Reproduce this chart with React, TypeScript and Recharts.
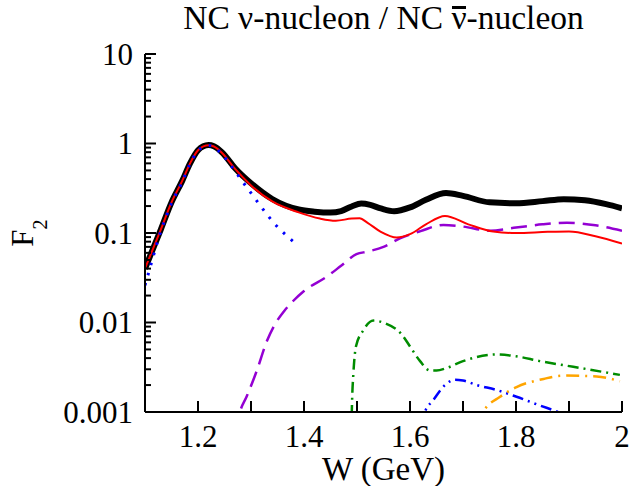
import { LineChart, Line, XAxis, YAxis } from "recharts";

// total F2 (thick black)
const wTotal = [1.1, 1.13, 1.15, 1.17, 1.185, 1.2, 1.21, 1.22, 1.23, 1.245, 1.27, 1.3, 1.34, 1.39, 1.42, 1.45, 1.47, 1.49, 1.508, 1.525, 1.545, 1.57, 1.6, 1.63, 1.668, 1.7, 1.75, 1.8, 1.85, 1.89, 1.93, 1.97, 2.0];
const fTotal = [0.04, 0.11, 0.22, 0.38, 0.6, 0.84, 0.93, 0.96, 0.93, 0.8, 0.53, 0.36, 0.24, 0.183, 0.173, 0.169, 0.176, 0.198, 0.213, 0.206, 0.188, 0.175, 0.193, 0.235, 0.28, 0.26, 0.22, 0.215, 0.227, 0.239, 0.232, 0.21, 0.189];

// red solid
const wRed = [1.1, 1.13, 1.15, 1.17, 1.185, 1.2, 1.21, 1.22, 1.23, 1.245, 1.27, 1.3, 1.34, 1.39, 1.43, 1.46, 1.49, 1.505, 1.52, 1.545, 1.575, 1.6, 1.63, 1.666, 1.71, 1.757, 1.8, 1.86, 1.9, 1.95, 2.0];
const fRed = [0.04, 0.11, 0.22, 0.38, 0.6, 0.84, 0.93, 0.955, 0.925, 0.79, 0.52, 0.34, 0.225, 0.17, 0.145, 0.137, 0.145, 0.146, 0.13, 0.103, 0.089, 0.097, 0.125, 0.155, 0.125, 0.104, 0.1, 0.103, 0.104, 0.092, 0.076];

// blue dotted (Delta)
const wDelta = [1.1, 1.105, 1.13, 1.15, 1.17, 1.185, 1.2, 1.21, 1.22, 1.23, 1.245, 1.27, 1.282, 1.306, 1.319, 1.343, 1.358, 1.373, 1.389];
const fDelta = [0.026, 0.033, 0.105, 0.215, 0.37, 0.59, 0.83, 0.92, 0.95, 0.91, 0.76, 0.49, 0.39, 0.25, 0.197, 0.13, 0.105, 0.087, 0.072];

// violet dashed
const wViolet = [1.27, 1.279, 1.292, 1.311, 1.33, 1.345, 1.362, 1.38, 1.4, 1.443, 1.47, 1.499, 1.52, 1.55, 1.581, 1.62, 1.663, 1.7, 1.751, 1.8, 1.85, 1.896, 1.95, 2.0];
const fViolet = [0.0006, 0.001, 0.0015, 0.0029, 0.0062, 0.0095, 0.0133, 0.0175, 0.0225, 0.0325, 0.043, 0.058, 0.062, 0.07, 0.087, 0.105, 0.123, 0.118, 0.106, 0.115, 0.125, 0.13, 0.122, 0.106];

// green dash-dot
const wGreen = [1.489, 1.491, 1.493, 1.498, 1.512, 1.531, 1.553, 1.584, 1.6, 1.619, 1.638, 1.65, 1.669, 1.7, 1.764, 1.8, 1.845, 1.908, 1.996];
const fGreen = [0.0005, 0.0015, 0.0026, 0.0054, 0.0082, 0.0105, 0.0098, 0.0074, 0.0054, 0.0037, 0.0029, 0.0029, 0.0031, 0.0037, 0.0044, 0.0042, 0.0037, 0.0032, 0.0026];

// blue dash-dot-dot
const wBlue2 = [1.62, 1.628, 1.644, 1.666, 1.685, 1.7, 1.726, 1.764, 1.801, 1.842, 1.88, 1.9];
const fBlue2 = [0.0007, 0.001, 0.00136, 0.002, 0.0023, 0.00225, 0.002, 0.00176, 0.00148, 0.0012, 0.001, 0.0009];

// orange dash-dot
const wOrange = [1.73, 1.738, 1.77, 1.801, 1.852, 1.889, 1.952, 1.996];
const fOrange = [0.0007, 0.001, 0.00148, 0.0019, 0.00234, 0.00255, 0.0025, 0.0022];

const xTicks = [1.1, 1.2, 1.3, 1.4, 1.5, 1.6, 1.7, 1.8, 1.9, 2.0];
const xTickLabels = ["", "1.2", "", "1.4", "", "1.6", "", "1.8", "", "2"];
const yMajor = [0.001, 0.01, 0.1, 1, 10];
const yMajorLabels = ["0.001", "0.01", "0.1", "1", "10"];

const yTicks: number[] = [];
yMajor.forEach((d, i) => {
  yTicks.push(d);
  if (i < yMajor.length - 1) for (let k = 2; k <= 9; k++) yTicks.push(+(d * k).toPrecision(3));
});

const FONT = "'Liberation Serif', 'Times New Roman', serif";
const TICK_FS = 31;

function pts(w: number[], f: number[]) {
  return w.map((x, i) => ({ w: x, f: f[i] }));
}

function BottomTick(props: any) {
  const { x, y, index } = props;
  const label = xTickLabels[index];
  return (
    <g>
      <line x1={x} x2={x} y1={y} y2={y - 11} stroke="#000" strokeWidth={2} />
      {label && (
        <text x={x} y={y + 35} textAnchor="middle" fontSize={TICK_FS} fontFamily={FONT} fill="#000">
          {label}
        </text>
      )}
    </g>
  );
}

function TopTick(props: any) {
  const { x, y } = props;
  return <line x1={x} x2={x} y1={y} y2={y + 11} stroke="#000" strokeWidth={2} />;
}

function LeftTick(props: any) {
  const { x, y, payload } = props;
  const i = yMajor.indexOf(payload.value);
  const len = i >= 0 ? 11 : 6;
  return (
    <g>
      <line x1={x} x2={x + len} y1={y} y2={y} stroke="#000" strokeWidth={2} />
      {i >= 0 && (
        <text x={x - 12} y={y + 10.5} textAnchor="end" fontSize={TICK_FS} fontFamily={FONT} fill="#000">
          {yMajorLabels[i]}
        </text>
      )}
    </g>
  );
}

function RightTick(props: any) {
  const { x, y, payload } = props;
  const len = yMajor.indexOf(payload.value) >= 0 ? 11 : 6;
  return <line x1={x} x2={x - len} y1={y} y2={y} stroke="#000" strokeWidth={2} />;
}

export default function App() {
  const axisLine = { stroke: "#000", strokeWidth: 2 };
  return (
    <div style={{ position: "absolute", left: 0, top: 0, width: 629, height: 486, background: "#fff", fontFamily: FONT }}>
      <LineChart width={629} height={486} margin={{ top: 54, right: 7, bottom: 34, left: 85 }}>
        <XAxis
          type="number"
          dataKey="w"
          domain={[1.1, 2]}
          ticks={xTicks}
          interval={0}
          allowDataOverflow
          height={40}
          tickSize={0}
          tickMargin={0}
          tickLine={false}
          axisLine={axisLine}
          tick={BottomTick}
        />
        <XAxis
          xAxisId="top"
          orientation="top"
          type="number"
          dataKey="w"
          domain={[1.1, 2]}
          ticks={xTicks}
          interval={0}
          height={0}
          tickSize={0}
          tickMargin={0}
          tickLine={false}
          axisLine={axisLine}
          tick={TopTick}
        />
        <YAxis
          type="number"
          scale="log"
          domain={[0.001, 10]}
          ticks={yTicks}
          interval={0}
          allowDataOverflow
          width={60}
          tickSize={0}
          tickMargin={0}
          tickLine={false}
          axisLine={axisLine}
          tick={LeftTick}
        />
        <YAxis
          yAxisId="right"
          orientation="right"
          type="number"
          scale="log"
          domain={[0.001, 10]}
          ticks={yTicks}
          interval={0}
          allowDataOverflow
          width={0}
          tickSize={0}
          tickMargin={0}
          tickLine={false}
          axisLine={axisLine}
          tick={RightTick}
        />
        <Line data={pts(wViolet, fViolet)} dataKey="f" type="monotone" stroke="#9400D3" strokeWidth={2.5} strokeDasharray="16 8" dot={false} isAnimationActive={false} />
        <Line data={pts(wGreen, fGreen)} dataKey="f" type="monotone" stroke="#008C00" strokeWidth={2.5} strokeDasharray="11 5 2 5" dot={false} isAnimationActive={false} />
        <Line data={pts(wBlue2, fBlue2)} dataKey="f" type="monotone" stroke="#0000FF" strokeWidth={2.5} strokeDasharray="11 5 2 5 2 5" dot={false} isAnimationActive={false} />
        <Line data={pts(wOrange, fOrange)} dataKey="f" type="monotone" stroke="#FFA500" strokeWidth={2.5} strokeDasharray="13 6 2 6" dot={false} isAnimationActive={false} />
        <Line data={pts(wTotal, fTotal)} dataKey="f" type="monotone" stroke="#000" strokeWidth={6} dot={false} isAnimationActive={false} />
        <Line data={pts(wRed, fRed)} dataKey="f" type="monotone" stroke="#FF0000" strokeWidth={2} dot={false} isAnimationActive={false} />
        <Line data={pts(wDelta, fDelta)} dataKey="f" type="monotone" stroke="#0000FF" strokeWidth={3} strokeDasharray="2.5 8" dot={false} isAnimationActive={false} />
      </LineChart>
      <div style={{ position: "absolute", left: 135, width: 497, top: 1, textAlign: "center", fontSize: 33.5, lineHeight: "33px", whiteSpace: "nowrap" }}>
        NC ν-nucleon / NC{" "}
        <span style={{ position: "relative", display: "inline-block" }}>
          ν
          <span style={{ position: "absolute", left: 1, right: 1, top: 5, height: 2.5, background: "#000" }} />
        </span>
        -nucleon
      </div>
      <div style={{ position: "absolute", left: 135, width: 497, top: 457, textAlign: "center", fontSize: 33, lineHeight: "24px" }}>
        W (GeV)
      </div>
      <svg width={629} height={486} style={{ position: "absolute", left: 0, top: 0, pointerEvents: "none" }}>
        <text transform="translate(33,233) rotate(-90)" textAnchor="middle" fontSize={31} fontFamily={FONT} fill="#000">
          F<tspan fontSize={20} dy={14}>2</tspan>
        </text>
      </svg>
    </div>
  );
}
